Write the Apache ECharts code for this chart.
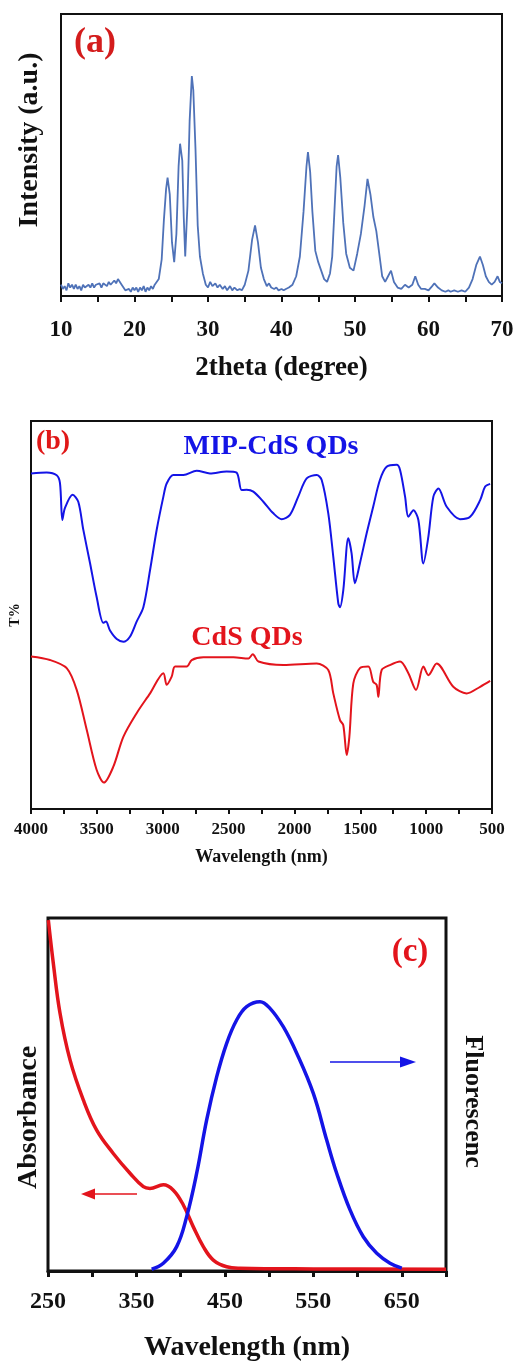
<!DOCTYPE html>
<html>
<head>
<meta charset="utf-8">
<script src="https://cdn.jsdelivr.net/npm/echarts@6/dist/echarts.min.js"></script>
<style>
html,body{margin:0;padding:0;background:#fff;}
#chart{width:518px;height:1367px;}
</style>
</head>
<body>
<div id="chart"></div>
<script>
// ---------- Panel (a): XRD pattern ----------
const xrdTicks = [10, 20, 30, 40, 50, 60, 70];
const xrdPattern = [
  [10,4],[10.25,2.5],[10.5,3.5],[10.75,2],[11,4.5],[11.25,3],[11.5,4],[11.75,2.5],[12,4],[12.25,2.5],
  [12.5,3.5],[12.75,2],[13,4],[13.25,3],[13.5,2.5],[13.75,4],[14,3],[14.25,4.5],[14.5,3],[14.75,4],
  [15,3.5],[15.25,4.5],[15.5,3],[15.75,4.5],[16,4],[16.25,3.5],[16.5,5],[16.75,4],[17,4.5],[17.25,5.5],
  [17.5,4.5],[17.75,6],[18,5.5],[18.25,4],[18.5,3],[18.75,2],[19,1.5],[19.25,2.5],[19.5,1.5],[19.75,3],
  [20,2],[20.25,3],[20.5,1.5],[20.75,3],[21,2],[21.25,3.5],[21.5,1.5],[21.75,3],[22,2],[22.25,3.5],
  [22.5,2.5],[22.75,4],[23,3.5],[23.3,6],[23.7,13],[24,27],[24.3,38],[24.5,42],[24.8,36],[25.1,19],
  [25.4,12],[25.7,22],[26,46],[26.2,54],[26.5,48],[26.7,28],[26.9,14],[27.2,32],[27.5,62],[27.8,78],
  [28,73],[28.3,52],[28.6,25],[28.9,14],[29.3,8],[29.7,4],[30,3],[30.3,5],[30.6,3.5],[31,4.5],
  [31.3,3],[31.6,4],[32,2.5],[32.3,3.5],[32.6,2],[33,3.5],[33.3,2],[33.6,3],[34,2],[34.3,2.5],
  [34.6,2],[35,4],[35.5,9],[36,20],[36.4,25],[36.8,19],[37.2,10],[37.6,6],[38,3.5],[38.3,4.5],
  [38.6,3],[39,2.5],[39.3,3],[39.6,2],[40,2.5],[40.3,2],[40.6,2.5],[41,3],[41.5,4],[42,7],
  [42.5,14],[43,30],[43.4,46],[43.6,51],[43.9,44],[44.2,30],[44.6,16],[45,12],[45.4,9],[45.8,6],
  [46.2,5],[46.6,8],[46.9,14],[47.2,30],[47.5,46],[47.7,50],[48,42],[48.4,26],[48.8,15],[49.3,10],
  [49.8,9],[50.3,15],[50.8,22],[51.3,32],[51.7,41.5],[52.1,36],[52.5,28],[52.9,23],[53.3,15],[53.7,7],
  [54.1,5],[54.5,7],[54.9,9],[55.3,5],[55.8,3],[56.3,2.5],[56.8,4],[57.3,3],[57.8,4],[58.2,7],
  [58.6,4],[59,2.5],[59.5,2.5],[60,2],[60.5,3.5],[60.8,4.5],[61.3,3],[61.8,2],[62.3,1.5],[62.7,2],
  [63,1.5],[63.5,2],[64,1.5],[64.5,2],[65,1.5],[65.5,3],[66,6],[66.5,11],[67,14],[67.4,11],
  [67.8,7],[68.2,5],[68.6,4],[69,5],[69.4,7],[69.7,5],[70,4.5]
];

// ---------- Panel (b): FTIR spectra ----------
const ftirTicks = [4000, 3500, 3000, 2500, 2000, 1500, 1000, 500];
const mipCdS = [
  [4000,86.5],[3881,86.7],[3805,86],[3780,84],[3762,74.5],[3742,77.6],[3684,81],[3641,79.2],
  [3603,72],[3552,63.4],[3502,54.7],[3451,48],[3431,48.3],[3400,46],[3349,43.8],[3299,43.1],
  [3249,44.4],[3198,48.3],[3147,52],[3096,61.6],[3046,71.9],[2995,80.5],[2970,83.9],[2919,86.1],
  [2843,86.1],[2742,87.2],[2641,86.5],[2515,87],[2439,86.7],[2401,82.2],[2363,82.3],[2312,81.8],
  [2236,79.2],[2160,76.2],[2097,74.7],[2034,75.8],[1971,80.5],[1907,85.2],[1831,86.1],[1793,84.8],
  [1743,76.2],[1705,65],[1667,53],[1654,52],[1629,56.4],[1591,69.8],[1566,65.9],[1541,58.2],
  [1503,63.3],[1452,71],[1402,77.9],[1351,84.8],[1300,88.2],[1224,88.7],[1198,87.4],[1160,80.5],
  [1135,75.3],[1097,77],[1059,74.5],[1021,63.3],[983,70.2],[945,80.5],[907,82.6],[844,77.9],
  [743,74.7],[666,75.3],[590,79.6],[552,83.1],[514,83.8]
];
const cdsQDs = [
  [4000,39.3],[3856,38.4],[3729,36.3],[3653,30.7],[3577,20.4],[3502,10.1],[3446,6.8],[3375,10.9],
  [3299,18.6],[3198,24.7],[3096,29.8],[2995,35],[2970,32],[2932,34.1],[2906,36.7],[2818,36.7],
  [2780,38.4],[2691,39.1],[2463,39.1],[2349,38.8],[2316,39.9],[2273,38],[2084,37.1],[1831,37.5],
  [1743,35.8],[1705,29.8],[1654,22.9],[1629,21.6],[1603,13.9],[1583,18.6],[1553,32.4],[1503,36.3],
  [1439,36.7],[1402,32.8],[1376,32],[1363,28.9],[1338,35.8],[1275,37.1],[1198,38],[1135,35],
  [1077,30.7],[1021,36.7],[983,34.5],[920,37.5],[794,31.5],[693,29.8],[590,31.5],[514,33]
];

// ---------- Panel (c): UV-vis absorbance & fluorescence ----------
const uvTicks = [250, 350, 450, 550, 650];
const absorbance = [
  [250.4,99.4],[256,87.2],[263.6,73],[274.9,59.8],[290,48.4],[305,39.9],[323.8,33.3],[342.7,27.7],
  [357.8,23.9],[365.3,23.4],[380.4,24.4],[391.7,22.9],[403,18.7],[414.3,12.5],[425.6,6.9],[436.9,3.1],
  [452,1.2],[467,0.8],[550,0.6],[700,0.5]
];
const fluorescence = [
  [367.2,0.5],[380.4,2.2],[395.5,6.9],[406.8,15.4],[418.1,27.7],[429.4,42.8],[440.7,55],[452,64.5],
  [463.3,71.1],[474.6,74.9],[489.7,76.3],[501,74.4],[516,69.2],[531.2,61.7],[550,50.3],[565.1,37.1],
  [576.4,27.7],[591.5,17.3],[606.5,9.7],[621.7,5],[636.7,2.2],[650,0.8]
];

const FONT = '"Liberation Serif", "Times New Roman", serif';
const RED = '#e3141c';
const BLUE = '#1414e6';

function hiddenY(extra) {
  return Object.assign({
    type: 'value', min: 0, max: 100,
    axisLine: {show: false}, axisTick: {show: false},
    axisLabel: {show: false}, splitLine: {show: false},
    nameLocation: 'middle'
  }, extra);
}

const chart = echarts.init(document.getElementById('chart'), null, {renderer: 'canvas'});

const option = {
  backgroundColor: '#fff',
  animation: false,
  grid: [
    {left: 61, top: 14, width: 441, height: 282, show: true, borderColor: '#111', borderWidth: 2, backgroundColor: '#fff'},
    {left: 31, top: 421, width: 461, height: 388, show: true, borderColor: '#111', borderWidth: 2, backgroundColor: '#fff'},
    {left: 48, top: 918, width: 398, height: 353, show: true, borderColor: '#111', borderWidth: 3, backgroundColor: '#fff'}
  ],
  xAxis: [
    {
      gridIndex: 0, type: 'value', min: 10, max: 70, interval: 5,
      name: '2theta (degree)', nameLocation: 'middle', nameGap: 59,
      nameTextStyle: {fontFamily: FONT, fontWeight: 'bold', fontSize: 27, color: '#111'},
      axisLine: {lineStyle: {color: '#111', width: 2}},
      axisTick: {length: 6, lineStyle: {color: '#111', width: 2}},
      axisLabel: {margin: 23, fontFamily: FONT, fontWeight: 'bold', fontSize: 23, color: '#111',
        formatter: v => xrdTicks.includes(v) ? String(v) : ''},
      splitLine: {show: false}
    },
    {
      gridIndex: 1, type: 'value', min: 500, max: 4000, interval: 250, inverse: true,
      name: 'Wavelength (nm)', nameLocation: 'middle', nameGap: 39,
      nameTextStyle: {fontFamily: FONT, fontWeight: 'bold', fontSize: 18, color: '#111'},
      axisLine: {lineStyle: {color: '#111', width: 2}},
      axisTick: {length: 5, lineStyle: {color: '#111', width: 2}},
      axisLabel: {margin: 12, fontFamily: FONT, fontWeight: 'bold', fontSize: 17, color: '#111',
        formatter: v => ftirTicks.includes(v) ? String(v) : ''},
      splitLine: {show: false}
    },
    {
      gridIndex: 2, type: 'value', min: 250, max: 700, interval: 50,
      name: 'Wavelength (nm)', nameLocation: 'middle', nameGap: 63,
      nameTextStyle: {fontFamily: FONT, fontWeight: 'bold', fontSize: 28, color: '#111'},
      axisLine: {lineStyle: {color: '#111', width: 3}},
      axisTick: {length: 6, lineStyle: {color: '#111', width: 3}},
      axisLabel: {margin: 19, fontFamily: FONT, fontWeight: 'bold', fontSize: 24, color: '#111',
        formatter: v => uvTicks.includes(v) ? String(v) : ''},
      splitLine: {show: false}
    }
  ],
  yAxis: [
    hiddenY({gridIndex: 0, name: 'Intensity (a.u.)', nameGap: 17,
      nameTextStyle: {fontFamily: FONT, fontWeight: 'bold', fontSize: 28, color: '#111', padding: [0, 0, 0, 30]}}),
    hiddenY({gridIndex: 1, name: 'T%', nameGap: 9,
      nameTextStyle: {fontFamily: FONT, fontWeight: 'bold', fontSize: 14, color: '#111'}}),
    hiddenY({gridIndex: 2, name: 'Absorbance', nameGap: 5,
      nameTextStyle: {fontFamily: FONT, fontWeight: 'bold', fontSize: 28, color: '#111', padding: [0, 46, 0, 0]}}),
    hiddenY({gridIndex: 2, position: 'right', name: 'Fluorescenc', nameGap: 14, nameRotate: -90,
      nameTextStyle: {fontFamily: FONT, fontWeight: 'bold', fontSize: 26, color: '#111', padding: [0, 0, 0, 14]}})
  ],
  series: [
    {type: 'line', xAxisIndex: 0, yAxisIndex: 0, data: xrdPattern, showSymbol: false,
      lineStyle: {color: '#4f72b8', width: 1.8}},
    {type: 'line', name: 'MIP-CdS QDs', xAxisIndex: 1, yAxisIndex: 1, data: mipCdS, showSymbol: false,
      smooth: 0.3, lineStyle: {color: BLUE, width: 2}},
    {type: 'line', name: 'CdS QDs', xAxisIndex: 1, yAxisIndex: 1, data: cdsQDs, showSymbol: false,
      smooth: 0.3, lineStyle: {color: RED, width: 2}},
    {type: 'line', name: 'Absorbance', xAxisIndex: 2, yAxisIndex: 2, data: absorbance, showSymbol: false,
      smooth: 0.4, lineStyle: {color: RED, width: 3.5}},
    {type: 'line', name: 'Fluorescence', xAxisIndex: 2, yAxisIndex: 3, data: fluorescence, showSymbol: false,
      smooth: 0.4, lineStyle: {color: BLUE, width: 3.5}}
  ],
  graphic: [
    {type: 'text', x: 95, y: 43, style: {text: '(a)', font: 'bold 36px ' + FONT, fill: '#d41c1c', textAlign: 'center', textVerticalAlign: 'middle'}},
    {type: 'text', x: 53, y: 442, style: {text: '(b)', font: 'bold 28px ' + FONT, fill: '#e01818', textAlign: 'center', textVerticalAlign: 'middle'}},
    {type: 'text', x: 271, y: 447, style: {text: 'MIP-CdS QDs', font: 'bold 28px ' + FONT, fill: BLUE, textAlign: 'center', textVerticalAlign: 'middle'}},
    {type: 'text', x: 247, y: 638, style: {text: 'CdS QDs', font: 'bold 28px ' + FONT, fill: RED, textAlign: 'center', textVerticalAlign: 'middle'}},
    {type: 'text', x: 410, y: 952, style: {text: '(c)', font: 'bold 33px ' + FONT, fill: RED, textAlign: 'center', textVerticalAlign: 'middle'}},
    {type: 'line', shape: {x1: 137, y1: 1194, x2: 92, y2: 1194}, style: {stroke: RED, lineWidth: 1.5}},
    {type: 'polygon', shape: {points: [[81, 1194], [95, 1188.5], [95, 1199.5]]}, style: {fill: RED}},
    {type: 'line', shape: {x1: 330, y1: 1062, x2: 403, y2: 1062}, style: {stroke: BLUE, lineWidth: 1.5}},
    {type: 'polygon', shape: {points: [[416, 1062], [400, 1056.5], [400, 1067.5]]}, style: {fill: BLUE}}
  ]
};
chart.setOption(option);
</script>
</body>
</html>
